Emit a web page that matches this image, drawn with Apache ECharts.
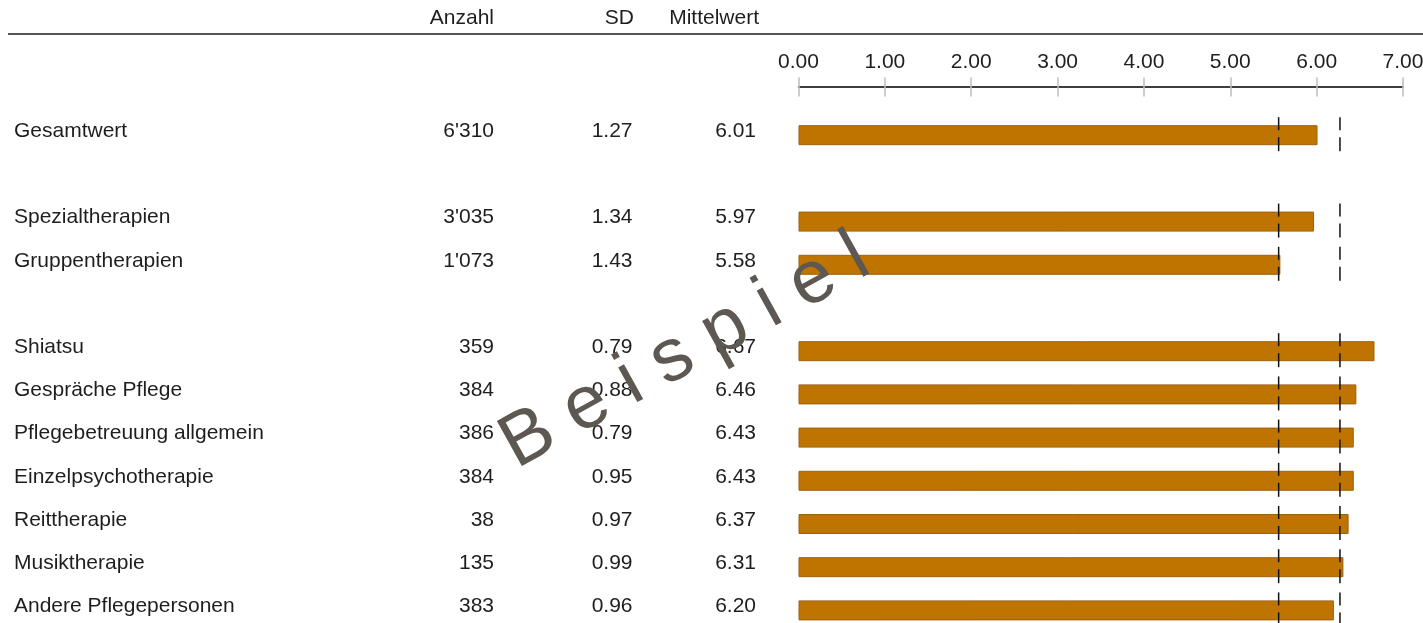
<!DOCTYPE html>
<html>
<head>
<meta charset="utf-8">
<script src="https://cdn.jsdelivr.net/npm/echarts@6/dist/echarts.min.js"></script>
<style>
  body { margin: 0; background: #fff; }
</style>
</head>
<body>
<!-- 图表容器 -->
<div id="main" style="width: 1423px;height:623px;"></div>

<script type="text/javascript">
    // 行名称（空字符串 = 分组间的空行）
    var categories = ['Gesamtwert', '', 'Spezialtherapien', 'Gruppentherapien', ' ',
        'Shiatsu', 'Gespräche Pflege', 'Pflegebetreuung allgemein', 'Einzelpsychotherapie',
        'Reittherapie', 'Musiktherapie', 'Andere Pflegepersonen'];
    var anzahl = ["6'310", '', "3'035", "1'073", '', '359', '384', '386', '384', '38', '135', '383'];
    var sd = ['1.27', '', '1.34', '1.43', '', '0.79', '0.88', '0.79', '0.95', '0.97', '0.99', '0.96'];
    var mittelwert = [6.01, null, 5.97, 5.58, null, 6.67, 6.46, 6.43, 6.43, 6.37, 6.31, 6.20];
    // 两条虚线参考值
    var referenzwerte = [5.56, 6.27];
    var xTicks = [0, 7, 1]; // min, max, interval

    var fontFam = '"Liberation Sans", Arial, sans-serif';
    var txtColor = '#1e1e1e';

    // 参考线数据：每个有值的行各一段
    var refData = [];
    mittelwert.forEach(function (v, i) {
        if (v === null) return;
        referenzwerte.forEach(function (r) { refData.push([r, i]); });
    });

    function colLabel(arr, margin, align) {
        return {
            show: true, interval: 0, margin: margin, align: align,
            fontSize: 21, fontFamily: fontFam, color: txtColor,
            verticalAlign: 'bottom', lineHeight: 8,
            formatter: function (v, idx) { return arr[idx]; }
        };
    }

    function catAxis(label) {
        return {
            type: 'category', data: categories, inverse: true, gridIndex: 0,
            position: 'left', offset: 0,
            axisLine: {show: false}, axisTick: {show: false}, splitLine: {show: false},
            axisLabel: label
        };
    }

    var myChart = echarts.init(document.getElementById('main'));

    var option = {
        animation: false,
        textStyle: {fontFamily: fontFam},
        grid: {left: 798.5, right: 20, top: 113.6, height: 518.4, containLabel: false, outerBoundsMode: 'none'},
        xAxis: [{
            type: 'value', position: 'top', offset: 27,
            min: xTicks[0], max: xTicks[1], interval: xTicks[2],
            axisLine: {show: true, lineStyle: {color: '#000', width: 1.5}},
            axisTick: {show: true, length: 9, lineStyle: {color: '#bdbdbd', width: 1.5}},
            axisLabel: {
                fontSize: 21, color: txtColor, margin: 14, fontFamily: fontFam,
                formatter: function (v) { return v.toFixed(2); }
            },
            splitLine: {show: false}
        }, {
            type: 'value', position: 'top', offset: 27,
            min: xTicks[0], max: xTicks[1], interval: xTicks[2],
            axisLine: {show: false},
            axisTick: {show: true, inside: true, length: 10, lineStyle: {color: '#bdbdbd', width: 1.5}},
            axisLabel: {show: false},
            splitLine: {show: false}
        }],
        yAxis: [
            catAxis(colLabel(categories, 784.5, 'left')),
            catAxis(colLabel(anzahl, 304.5, 'right')),
            catAxis(colLabel(sd, 166, 'right')),
            catAxis(colLabel(mittelwert.map(function (v) { return v === null ? '' : v.toFixed(2); }), 42.5, 'right'))
        ],
        graphic: [
            {type: 'line', shape: {x1: 8, y1: 34, x2: 1423, y2: 34}, style: {stroke: '#555', lineWidth: 2}},
            {type: 'text', x: 494, y: 18, style: {text: 'Anzahl', textAlign: 'right', textVerticalAlign: 'middle', font: '21px ' + fontFam, fill: txtColor}},
            {type: 'text', x: 634, y: 18, style: {text: 'SD', textAlign: 'right', textVerticalAlign: 'middle', font: '21px ' + fontFam, fill: txtColor}},
            {type: 'text', x: 759, y: 18, style: {text: 'Mittelwert', textAlign: 'right', textVerticalAlign: 'middle', font: '21px ' + fontFam, fill: txtColor}},
            // 水印
            {type: 'text', x: 685, y: 352, rotation: 29 * Math.PI / 180, z: 100,
                style: {text: 'B e i s p i e l', textAlign: 'center', textVerticalAlign: 'middle',
                    font: '75px ' + fontFam, fill: '#5e5852'}}
        ],
        series: [{
            type: 'bar',
            xAxisIndex: 0, yAxisIndex: 0,
            data: mittelwert,
            barWidth: 20,
            itemStyle: {color: '#C07400', borderColor: '#9a6210', borderWidth: 1}
        }, {
            type: 'custom',
            xAxisIndex: 0, yAxisIndex: 0,
            data: refData,
            z: 5,
            renderItem: function (params, api) {
                var p = api.coord([api.value(0), api.value(1)]);
                var st = {stroke: '#111', lineWidth: 1.5};
                return {
                    type: 'group',
                    children: [
                        {type: 'line', shape: {x1: p[0], y1: p[1] - 18, x2: p[0], y2: p[1] - 5}, style: st},
                        {type: 'line', shape: {x1: p[0], y1: p[1] + 2, x2: p[0], y2: p[1] + 16}, style: st}
                    ]
                };
            }
        }]
    };

    myChart.setOption(option);
</script>
</body>
</html>
